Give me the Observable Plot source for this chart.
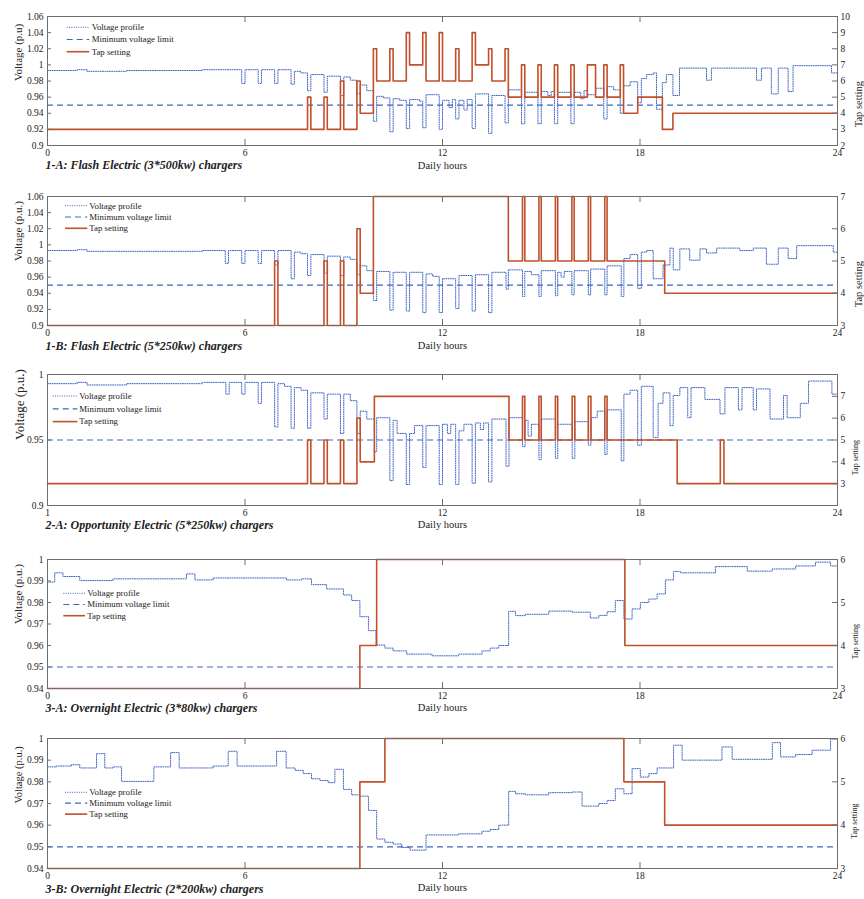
<!DOCTYPE html>
<html><head><meta charset="utf-8">
<script src="https://cdn.jsdelivr.net/npm/d3@7"></script>
<script src="https://cdn.jsdelivr.net/npm/@observablehq/plot@0.6"></script>
<style>
body{margin:0;background:#fff;}
#chart{width:864px;}
#chart svg{display:block;}
</style></head><body><div id="chart"></div>
<script>
// ---------- data ----------
const hourTicks = [0, 6, 12, 18, 24];
const minVoltage = 0.95;
const seriesNames = ["Voltage profile", "Minimum voltage limit", "Tap setting"];
const titles = [
  "1-A: Flash Electric (3*500kw) chargers",
  "1-B: Flash Electric (5*250kw) chargers",
  "2-A: Opportunity Electric (5*250kw) chargers",
  "3-A: Overnight Electric (3*80kw) chargers",
  "3-B: Overnight Electric (2*200kw) chargers"
];

// [hour, tap position] (step changes)
const tap1 = [[0,3],[7.9,5],[8.0,3],[8.4,5],[8.5,3],[8.9,6],[9.0,3],[9.4,6],[9.5,4],[9.9,8],[10.0,6],[10.4,8],[10.5,6],[10.9,9],[11.0,7],[11.4,9],[11.5,6],[11.9,9],[12.0,6],[12.4,8],[12.5,6],[12.9,9],[13.0,7],[13.4,8],[13.5,6],[13.9,8],[14.0,5],[14.4,7],[14.5,5],[14.9,7],[15.0,5],[15.4,7],[15.5,5],[15.9,7],[16.0,5],[16.4,7],[16.65,5],[16.9,7],[17.0,5],[17.4,7],[17.5,4],[17.93,5],[18.68,3],[19.0,4],[24,4]];
const tap2 = [[0,3],[6.9,5],[7.0,3],[8.4,5],[8.5,3],[8.9,5],[9.0,3],[9.4,6],[9.5,4],[9.9,7],[14.0,5],[14.43,7],[14.5,5],[14.93,7],[15.0,5],[15.43,7],[15.5,5],[15.93,7],[16.0,5],[16.43,7],[16.5,5],[16.93,7],[17.0,5],[18.75,4],[24,4]];
const tap3 = [[0,3],[7.9,5],[8.0,3],[8.4,5],[8.5,3],[8.9,5],[9.0,3],[9.4,6],[9.5,4],[9.93,7],[14.02,5],[14.43,7],[14.5,5],[14.93,7],[15.0,5],[15.43,7],[15.5,5],[15.94,7],[16.02,5],[16.43,7],[16.51,5],[16.93,7],[17.0,5],[19.13,3],[20.44,5],[20.55,3],[24,3]];
const tap4 = [[0,3],[9.49,4],[10.0,6],[17.54,4],[24,4]];
const tap5 = [[0,3],[9.49,5],[10.25,6],[17.51,5],[18.75,4],[24,4]];

// [hour, voltage p.u.] (step changes)
const volt1 = [[0,0.993],[0.9,0.994],[1.2,0.992],[2.4,0.993],[4.7,0.994],[5.9,0.977],[6.0,0.994],[6.4,0.977],[6.5,0.994],[6.9,0.977],[7.0,0.994],[7.4,0.976],[7.5,0.992],[7.7,0.990],[7.9,0.968],[8.0,0.988],[8.4,0.966],[8.5,0.986],[8.9,0.962],[9.0,0.985],[9.2,0.981],[9.4,0.964],[9.5,0.975],[9.7,0.968],[9.9,0.930],[10.0,0.961],[10.2,0.959],[10.4,0.917],[10.5,0.958],[10.7,0.956],[10.9,0.921],[11.0,0.957],[11.3,0.955],[11.4,0.922],[11.5,0.963],[11.9,0.920],[12.0,0.956],[12.2,0.947],[12.3,0.957],[12.4,0.933],[12.5,0.956],[12.65,0.944],[12.75,0.957],[12.9,0.921],[13.0,0.964],[13.4,0.915],[13.5,0.962],[13.9,0.928],[14.0,0.969],[14.4,0.927],[14.5,0.966],[14.9,0.927],[15.0,0.967],[15.2,0.962],[15.3,0.967],[15.4,0.927],[15.5,0.966],[15.9,0.927],[16.0,0.966],[16.2,0.958],[16.3,0.968],[16.4,0.963],[16.65,0.971],[16.9,0.933],[17.0,0.973],[17.2,0.969],[17.4,0.940],[17.5,0.974],[17.7,0.979],[17.93,0.953],[18.04,0.983],[18.2,0.988],[18.4,0.990],[18.5,0.945],[18.68,0.978],[18.8,0.988],[19.0,0.962],[19.2,0.996],[20.02,0.981],[20.17,0.996],[21.54,0.981],[21.69,0.996],[21.99,0.964],[22.2,0.996],[22.5,0.967],[22.65,0.999],[23.82,0.990],[24,0.990]];
const volt2 = [[0,0.993],[0.9,0.994],[1.2,0.992],[4.7,0.993],[5.4,0.977],[5.5,0.993],[5.9,0.977],[6.0,0.993],[6.4,0.977],[6.5,0.993],[6.9,0.975],[7.0,0.993],[7.4,0.958],[7.5,0.991],[7.7,0.989],[7.9,0.962],[8.0,0.988],[8.4,0.965],[8.5,0.986],[8.9,0.962],[9.0,0.985],[9.2,0.982],[9.4,0.963],[9.5,0.974],[9.7,0.968],[9.9,0.931],[10.0,0.967],[10.4,0.919],[10.5,0.966],[10.9,0.918],[11.0,0.966],[11.4,0.916],[11.5,0.964],[11.7,0.961],[11.9,0.916],[12.0,0.958],[12.4,0.921],[12.5,0.962],[12.9,0.918],[13.0,0.963],[13.4,0.916],[13.5,0.966],[13.93,0.945],[14.0,0.969],[14.43,0.936],[14.5,0.967],[14.7,0.963],[14.93,0.936],[15.0,0.968],[15.43,0.937],[15.5,0.966],[15.6,0.960],[15.7,0.967],[15.93,0.938],[16.0,0.968],[16.43,0.938],[16.5,0.970],[16.93,0.938],[17.0,0.974],[17.43,0.936],[17.51,0.983],[17.7,0.988],[17.93,0.946],[18.04,0.991],[18.2,0.993],[18.4,0.958],[18.7,0.975],[18.91,0.996],[19.01,0.969],[19.21,0.995],[19.51,0.981],[19.82,0.995],[20.02,0.990],[20.33,0.996],[21.03,0.993],[21.44,0.996],[21.84,0.976],[22.2,0.996],[22.5,0.983],[22.76,0.999],[23.87,0.991],[24,0.991]];
const volt3 = [[0,0.993],[0.9,0.994],[1.2,0.992],[2.4,0.993],[4.7,0.994],[5.42,0.985],[5.52,0.994],[5.9,0.985],[6.0,0.994],[6.4,0.978],[6.5,0.994],[6.9,0.960],[7.0,0.993],[7.2,0.991],[7.4,0.959],[7.5,0.990],[7.7,0.988],[7.9,0.959],[8.0,0.986],[8.4,0.966],[8.5,0.985],[8.9,0.955],[9.0,0.985],[9.2,0.980],[9.4,0.955],[9.5,0.972],[9.7,0.966],[9.93,0.941],[10.0,0.967],[10.4,0.919],[10.5,0.965],[10.62,0.955],[10.8,0.955],[10.9,0.916],[11.0,0.955],[11.15,0.961],[11.4,0.929],[11.5,0.961],[11.9,0.916],[12.0,0.962],[12.15,0.955],[12.25,0.962],[12.4,0.916],[12.5,0.957],[12.65,0.962],[12.9,0.917],[13.0,0.963],[13.15,0.958],[13.25,0.963],[13.4,0.918],[13.5,0.966],[13.93,0.930],[14.02,0.967],[14.43,0.945],[14.51,0.965],[14.6,0.953],[14.7,0.962],[14.93,0.935],[15.0,0.966],[15.43,0.936],[15.5,0.962],[15.94,0.936],[16.02,0.964],[16.43,0.946],[16.51,0.967],[16.7,0.972],[16.93,0.939],[17.0,0.973],[17.43,0.934],[17.51,0.985],[17.7,0.988],[17.93,0.946],[18.04,0.991],[18.4,0.952],[18.55,0.978],[18.7,0.986],[18.91,0.961],[19.01,0.984],[19.21,0.990],[19.45,0.967],[19.55,0.990],[19.97,0.981],[20.43,0.970],[20.58,0.990],[20.99,0.973],[21.1,0.990],[21.44,0.973],[21.54,0.989],[21.95,0.966],[22.36,0.984],[22.47,0.967],[22.87,0.978],[23.12,0.995],[23.83,0.985],[24,0.985]];
const volt4 = [[0,0.9895],[0.22,0.9938],[0.47,0.9921],[0.98,0.9902],[1.99,0.991],[4.22,0.9933],[4.48,0.9905],[5.03,0.9914],[7.26,0.9905],[7.72,0.991],[8.02,0.9883],[8.48,0.9863],[8.99,0.9835],[9.24,0.9809],[9.49,0.9734],[9.75,0.9669],[9.98,0.9602],[10.25,0.9588],[10.5,0.9575],[10.91,0.956],[11.68,0.9552],[12.49,0.956],[13.2,0.9575],[13.45,0.9588],[13.71,0.960],[14.01,0.9759],[14.22,0.9739],[14.52,0.9745],[15.23,0.976],[15.94,0.9755],[16.49,0.9728],[16.75,0.974],[17.0,0.9757],[17.25,0.9809],[17.51,0.9723],[17.76,0.977],[18.01,0.980],[18.27,0.9816],[18.52,0.984],[18.77,0.9905],[19.02,0.9944],[19.23,0.9938],[20.29,0.9967],[21.26,0.9946],[22.02,0.9956],[22.73,0.997],[23.33,0.9988],[23.79,0.997],[24,0.997]];
const volt5 = [[0,0.9869],[0.27,0.9873],[0.73,0.9879],[0.98,0.9864],[1.49,0.993],[1.74,0.9864],[1.99,0.9869],[2.25,0.9802],[3.23,0.9869],[3.74,0.9935],[4.0,0.9864],[5.03,0.9873],[5.49,0.9941],[5.76,0.9873],[6.96,0.9941],[7.25,0.9864],[7.52,0.9853],[7.77,0.9838],[8.02,0.9814],[8.28,0.9806],[8.53,0.9796],[8.73,0.9858],[8.99,0.9765],[9.24,0.974],[9.49,0.9734],[9.75,0.9668],[10.0,0.9536],[10.25,0.9521],[10.5,0.9513],[10.76,0.9497],[11.01,0.9485],[11.5,0.9555],[12.49,0.956],[13.2,0.9572],[13.45,0.958],[13.71,0.960],[14.01,0.9756],[14.22,0.9745],[14.52,0.974],[15.23,0.975],[15.94,0.9753],[16.24,0.9688],[16.75,0.970],[17.0,0.9714],[17.25,0.9768],[17.51,0.9745],[17.76,0.9861],[18.01,0.9822],[18.27,0.9838],[18.52,0.9864],[19.02,0.9969],[19.28,0.990],[20.49,0.9961],[20.8,0.9904],[22.02,0.9981],[22.27,0.9915],[22.73,0.9926],[23.23,0.9946],[23.79,0.9997],[24,0.9997]];

const voltTicksA = [0.9,0.92,0.94,0.96,0.98,1,1.02,1.04,1.06];
const voltTicksB = [0.9,0.95,1];
const voltTicksC = [0.94,0.95,0.96,0.97,0.98,0.99,1];
const tapTicks1 = [2,3,4,5,6,7,8,9,10];
const tapTicks2 = [3,4,5,6,7];
const tapTicks3 = [3,4,5,6,7];
const tapTicks4 = [3,4,5,6];

// ---------- layout / style ----------
const BLUE = "#4066c2", RED = "#c1502b", FRAME = "#6e6e6e";
const FONT = '"Liberation Serif","Times New Roman","DejaVu Serif",serif';
const W = 864, ML = 47, MR = 27;

const panels = [
  {title: titles[0], volt: volt1, tap: tap1, vDom: [0.9,1.06], vTicks: voltTicksA, tDom: [2,10], tTicks: tapTicks1,
   h: 180, top: 16, bottom: 35, yLabel: "Voltage (p.u)", yFs: 11, tFs: 10.5, yDx: -29, tDx: 21, titleDy: 23.5, hoursDy: 23,
   leg: {x0: 66.7, x1: 89.3, tx: 91.7, y: 27.3, dy: 12.2}, xFmt: d => d},
  {title: titles[1], volt: volt2, tap: tap2, vDom: [0.9,1.06], vTicks: voltTicksA, tDom: [3,7], tTicks: tapTicks2,
   h: 180, top: 16, bottom: 35, yLabel: "Voltage (p.u.)", yFs: 11, tFs: 10.5, yDx: -29, tDx: 21, titleDy: 24, hoursDy: 23,
   leg: {x0: 65, x1: 87.3, tx: 89.3, y: 25.7, dy: 11.3}, xFmt: d => d},
  {title: titles[2], volt: volt3, tap: tap3, vDom: [0.9,1.0], vTicks: voltTicksB, tDom: [2,8], tTicks: tapTicks3,
   h: 180, top: 14, bottom: 35, yLabel: "Voltage (p.u.)", yFs: 13, tFs: 8, yDx: -28, tDx: 18, titleDy: 23, hoursDy: 22,
   leg: {x0: 52.7, x1: 77.3, tx: 79.3, y: 36, dy: 12.8}, xFmt: d => d === 0 ? "1" : d},
  {title: titles[3], volt: volt4, tap: tap4, vDom: [0.94,1.0], vTicks: voltTicksC, tDom: [3,6], tTicks: tapTicks4,
   h: 178, top: 19, bottom: 30, yLabel: "Voltage (p.u.)", yFs: 11, tFs: 8, yDx: -29, tDx: 18, titleDy: 23.5, hoursDy: 22,
   leg: {x0: 63.3, x1: 85, tx: 87.3, y: 53.3, dy: 11.2}, xFmt: d => d},
  {title: titles[4], volt: volt5, tap: tap5, vDom: [0.94,1.0], vTicks: voltTicksC, tDom: [3,6], tTicks: tapTicks4,
   h: 181, top: 20, bottom: 31, yLabel: "Voltage (p.u.)", yFs: 10.5, tFs: 8, yDx: -29, tDx: 17, titleDy: 24, hoursDy: 22,
   leg: {x0: 65, x1: 87.3, tx: 89.3, y: 74.3, dy: 10.9}, xFmt: d => d}
];

const fmtV = d => String(+d.toFixed(2));
const chart = document.getElementById("chart");

for (const p of panels) {
  const toV = t => p.vDom[0] + (t - p.tDom[0]) * (p.vDom[1] - p.vDom[0]) / (p.tDom[1] - p.tDom[0]);
  const toT = v => p.tDom[0] + (v - p.vDom[0]) * (p.tDom[1] - p.tDom[0]) / (p.vDom[1] - p.vDom[0]);
  const frameH = p.h - p.top - p.bottom, frameW = W - ML - MR;
  const tapTickV = p.tTicks.map(toV);
  const inner = hourTicks.slice(1, -1);
  const svg = Plot.plot({
    width: W, height: p.h, marginLeft: ML, marginRight: MR, marginTop: p.top, marginBottom: p.bottom,
    style: {fontFamily: FONT, fontSize: "9.5px", color: "#222", background: "#fff", overflow: "visible"},
    x: {domain: [0, 24]},
    y: {domain: p.vDom},
    marks: [
      Plot.ruleY([minVoltage], {stroke: BLUE, strokeWidth: 1.2, strokeDasharray: "6,4"}),
      Plot.line(p.volt, {x: d => d[0], y: d => d[1], curve: "step-after", stroke: BLUE, strokeWidth: 1, strokeDasharray: "1,1.3"}),
      Plot.line(p.tap, {x: d => d[0], y: d => toV(d[1]), curve: "step-after", stroke: RED, strokeWidth: 1.6}),
      Plot.frame({stroke: FRAME, strokeWidth: 1}),
      Plot.tickX(inner, {x: d => d, insetBottom: frameH - 6, stroke: FRAME}),
      Plot.tickX(inner, {x: d => d, insetTop: frameH - 6, stroke: FRAME}),
      Plot.tickY(p.vTicks, {y: d => d, insetRight: frameW - 4, stroke: FRAME}),
      Plot.tickY(tapTickV, {y: d => d, insetLeft: frameW - 5, stroke: FRAME}),
      Plot.axisX(hourTicks, {anchor: "bottom", tickSize: 0, tickPadding: 4, tickFormat: p.xFmt, label: null}),
      Plot.axisY(p.vTicks, {anchor: "left", tickSize: 0, tickPadding: 4, tickFormat: fmtV, label: null}),
      Plot.axisY(tapTickV, {anchor: "right", tickSize: 0, tickPadding: 3, tickFormat: v => Math.round(toT(v)), label: null}),
      Plot.text([p.title], {frameAnchor: "bottom-left", textAnchor: "start", dy: p.titleDy, dx: -2, fontWeight: "bold", fontStyle: "italic", fontSize: 12}),
      Plot.text(["Daily hours"], {frameAnchor: "bottom", dy: p.hoursDy, fontSize: 10.5}),
      Plot.text([p.yLabel], {frameAnchor: "left", rotate: -90, dx: p.yDx, fontSize: p.yFs}),
      Plot.text(["Tap setting"], {frameAnchor: "right", rotate: -90, dx: p.tDx, fontSize: p.tFs})
    ]
  });
  // legend (inside the frame, top-left)
  const g = d3.select(svg).append("g").attr("class", "legend")
    .attr("text-anchor", "start").style("font-family", FONT).style("font-size", "8.8px");
  const styles = [
    {stroke: BLUE, dash: "1,1.3", w: 1},
    {stroke: BLUE, dash: "6,4", w: 1.2},
    {stroke: RED, dash: null, w: 1.6}
  ];
  seriesNames.forEach((name, i) => {
    const y = p.leg.y + i * p.leg.dy;
    g.append("line").attr("x1", p.leg.x0).attr("x2", p.leg.x1).attr("y1", y).attr("y2", y)
      .attr("stroke", styles[i].stroke).attr("stroke-width", styles[i].w)
      .attr("stroke-dasharray", styles[i].dash);
    g.append("text").attr("x", p.leg.tx).attr("y", y).attr("dy", "0.32em")
      .attr("text-anchor", "start").attr("fill", "#222").text(name);
  });
  chart.appendChild(svg);
}
</script>
</body></html>
